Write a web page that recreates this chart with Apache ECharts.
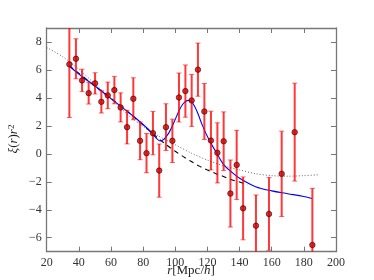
<!DOCTYPE html>
<html><head><meta charset="utf-8">
<script src="https://cdn.jsdelivr.net/npm/echarts@6/dist/echarts.min.js"></script>
<style>html,body{margin:0;padding:0;background:#fff}#c{width:374px;height:280px}</style>
</head><body><div id="c"></div>
<script>
var rVals = [34.1,38.2,42.0,46.1,50.1,54.0,58.0,62.1,66.0,70.0,73.9,78.1,82.1,86.1,90.0,94.2,98.2,102.3,106.3,110.2,114.1,118.1,122.2,126.2,130.1,134.3,138.2,142.2,150.2,158.3,166.2,174.3,185.3];
var xiVals = [6.40,6.80,5.25,4.34,5.04,3.72,4.18,4.56,3.32,1.91,3.94,0.93,0.05,1.48,-1.20,1.91,0.93,4.03,4.49,3.82,6.02,3.03,0.95,0.07,0.90,-2.84,-0.79,-3.90,-5.14,-4.30,-1.43,1.55,-6.52];
var errVals = [3.8,1.43,0.8,0.78,0.76,0.8,0.95,0.98,1.04,1.2,1.5,1.35,1.4,1.55,1.9,1.67,1.55,1.75,1.87,1.86,1.9,2.0,2.1,2.15,2.1,2.4,2.47,2.25,2.2,2.6,3.05,3.5,4.05];

var modelR  = [34,40,50,60,70,80,85,88,90.5,93,96,99,102,105,108,110,112,114,117,121,125,130,135,140,150,160,170,180,185];
var modelXi = [6.3,5.7,4.85,3.95,3.05,2.1,1.55,1.15,0.92,1.05,1.5,2.2,3.0,3.6,3.82,3.75,3.4,2.9,2.0,1.0,0.2,-0.75,-1.3,-1.75,-2.35,-2.65,-2.85,-3.05,-3.2];

var noBaoR  = [34,50,70,85,90,95,100,105,110,115,120,125,130,135,140,145];
var noBaoXi = [6.3,4.85,3.05,1.55,1.05,0.6,0.18,-0.2,-0.55,-0.88,-1.15,-1.4,-1.62,-1.85,-2.02,-2.2];

var dotR  = [20,30,40,50,60,70,80,90,100,110,120,130,140,150,160,170,180,189];
var dotXi = [7.6,6.95,6.05,5.0,3.95,2.85,1.95,1.25,0.65,0.05,-0.45,-0.85,-1.15,-1.42,-1.56,-1.6,-1.56,-1.5];

var xTicks = [20,40,60,80,100,120,140,160,180,200];
var yTicks = [-6,-4,-2,0,2,4,6,8];

function zip(a,b){return a.map(function(v,i){return [v,b[i]];});}
var errData = rVals.map(function(r,i){return [r, xiVals[i], errVals[i]];});
var FONT = 'Liberation Serif';
var axisCol = '#777';
function fmt(v){return String(v).replace('-', '\u2212');}

var chart = echarts.init(document.getElementById('c'), null, {renderer:'canvas'});
var aLine = {show:true, onZero:false, lineStyle:{color:axisCol, width:1.3}};
var tick = {show:true, inside:true, length:5, lineStyle:{color:axisCol, width:1}};
chart.setOption({
  animation:false,
  grid:{left:46.7, right:38, top:28, bottom:28.3, containLabel:false},
  xAxis:[
    {type:'value', min:20, max:200, interval:20, position:'bottom', axisLine:aLine, axisTick:tick, splitLine:{show:false},
      axisLabel:{color:'#333', fontFamily:FONT, fontSize:12, margin:5, formatter:fmt}},
    {type:'value', min:20, max:200, interval:20, position:'top', axisLine:aLine, axisTick:tick, splitLine:{show:false},
      axisLabel:{show:false}}
  ],
  yAxis:[
    {type:'value', min:-7, max:9, position:'left', axisLine:aLine, splitLine:{show:false},
      axisLabel:{color:'#333', fontFamily:FONT, fontSize:12, margin:5, formatter:fmt, customValues: yTicks},
      axisTick:Object.assign({customValues: yTicks}, tick)},
    {type:'value', min:-7, max:9, position:'right', axisLine:aLine, splitLine:{show:false},
      axisLabel:{show:false},
      axisTick:Object.assign({customValues: yTicks}, tick)}
  ],
  graphic:[
    {type:'text', x:14, y:139, rotation:Math.PI/2,
      style:{text:'{i|ξ}({i|r}){i|r}{s|2}', textAlign:'center', textVerticalAlign:'middle', fill:'#222', font:'13px '+FONT,
        rich:{i:{fontStyle:'italic', fontFamily:FONT, fontSize:13, fill:'#222'}, s:{fontFamily:FONT, fontSize:9, verticalAlign:'top', lineHeight:9, fill:'#222'}}}},
    {type:'text', x:191, y:271,
      style:{text:'{i|r}[Mpc/{i|h}]', textAlign:'center', textVerticalAlign:'middle', fill:'#222', font:'13px '+FONT,
        rich:{i:{fontStyle:'italic', fontFamily:FONT, fontSize:13, fill:'#222'}}}}
  ],
  series:[
    {type:'line', data:zip(dotR,dotXi), smooth:0.3, showSymbol:false, clip:true,
      lineStyle:{color:'#666', width:1, type:[1,2]}, z:2},
    {type:'line', data:zip(noBaoR,noBaoXi), smooth:0.3, showSymbol:false, clip:true,
      lineStyle:{color:'#000', width:1.1, type:[5,4]}, z:3},
    {type:'line', data:zip(modelR,modelXi), smooth:0.35, showSymbol:false, clip:true,
      lineStyle:{color:'#0000ff', width:1.1}, z:4},
    {type:'custom', data:errData, clip:true, z:5,
      renderItem:function(params, api){
        var x = api.value(0), y = api.value(1), e = api.value(2);
        var top = api.coord([x, y+e]), bot = api.coord([x, y-e]);
        var cw = 2.5;
        var st = {stroke:'rgba(255,0,0,0.78)', lineWidth:2};
        return {type:'group', children:[
          {type:'line', shape:{x1:top[0], y1:top[1], x2:bot[0], y2:bot[1]}, style:st},
          {type:'line', shape:{x1:top[0]-cw, y1:top[1], x2:top[0]+cw, y2:top[1]}, style:{stroke:'rgba(255,0,0,0.6)', lineWidth:1}},
          {type:'line', shape:{x1:bot[0]-cw, y1:bot[1], x2:bot[0]+cw, y2:bot[1]}, style:{stroke:'rgba(255,0,0,0.6)', lineWidth:1}}
        ]};
      }},
    {type:'scatter', data:zip(rVals,xiVals), symbol:'circle', symbolSize:5.5, clip:true, z:6,
      itemStyle:{color:'#d40000', borderColor:'#400000', borderWidth:0.8}}
  ]
});
</script></body></html>
